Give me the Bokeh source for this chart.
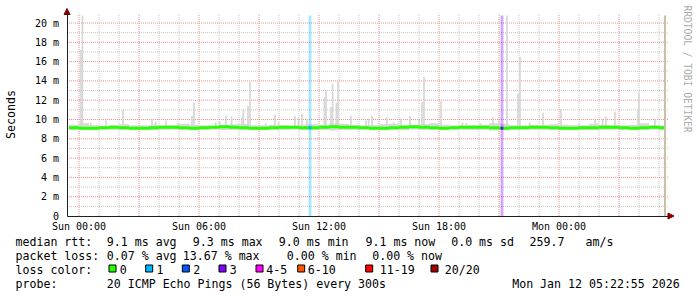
import math
from bokeh.plotting import figure
from bokeh.models import FixedTicker, Label, Arrow, NormalHead
from bokeh.embed import file_html
from bokeh.resources import INLINE

# ---------------- data ----------------
# time in hours relative to Sun 00:00 (2026-01-11); graph spans 30 h
x_start_h, x_end_h = -0.6, 29.4

tick_hours = [0, 6, 12, 18, 24]
tick_labels = ["Sun 00:00", "Sun 06:00", "Sun 12:00", "Sun 18:00", "Mon 00:00"]
y_ticks = [0, 2, 4, 6, 8, 10, 12, 14, 16, 18, 20]
y_tick_labels = ["0", "2 m", "4 m", "6 m", "8 m", "10 m", "12 m", "14 m", "16 m", "18 m", "20 m"]

# 30-minute summaries (ms)
step_start_h = -0.5
step_h = 0.5
data_end_h = 29.3
median_ms = [9.15, 9.1, 9.1, 9.15, 9.2, 9.15, 9.1, 9.1, 9.15, 9.2,
             9.2, 9.15, 9.1, 9.15, 9.2, 9.25, 9.2, 9.15, 9.1, 9.1,
             9.15, 9.2, 9.2, 9.15, 9.15, 9.2, 9.25, 9.2, 9.2, 9.15,
             9.1, 9.1, 9.15, 9.2, 9.25, 9.2, 9.15, 9.1, 9.15, 9.2,
             9.2, 9.2, 9.15, 9.1, 9.15, 9.15, 9.2, 9.2, 9.15, 9.1,
             9.1, 9.15, 9.15, 9.2, 9.2, 9.15, 9.1, 9.15, 9.2, 9.15]
smoke_lo_ms = [8.95, 8.9, 8.95, 9.0, 8.9, 8.95, 8.95, 9.0, 8.9, 8.95,
               9.0, 8.9, 8.95, 8.95, 9.0, 8.9, 8.95, 8.9, 8.95, 9.0,
               8.95, 8.9, 9.0, 8.95, 8.9, 8.95, 8.85, 8.9, 8.95, 9.0,
               8.95, 8.9, 8.95, 8.9, 9.0, 8.95, 8.9, 8.95, 9.0, 8.95,
               8.9, 8.95, 8.85, 8.9, 8.95, 9.0, 8.95, 8.9, 8.95, 9.0,
               8.95, 8.9, 8.9, 8.95, 9.0, 8.95, 8.9, 8.95, 9.0, 8.95]
smoke_hi_ms = [9.45, 9.6, 9.4, 9.35, 9.4, 9.5, 9.4, 9.4, 9.45, 9.4,
               9.4, 9.55, 9.45, 9.4, 9.35, 9.45, 9.5, 9.55, 9.4, 9.4,
               9.45, 9.4, 9.35, 9.45, 9.5, 9.45, 9.6, 9.55, 9.45, 9.4,
               9.4, 9.5, 9.55, 9.45, 9.4, 9.5, 9.6, 9.45, 9.4, 9.4,
               9.4, 9.45, 9.6, 9.55, 9.4, 9.4, 9.45, 9.4, 9.5, 9.45,
               9.4, 9.4, 9.55, 9.45, 9.4, 9.4, 9.45, 9.6, 9.4, 9.4]

# individual 5-minute smoke spikes (hour, max ms)
spike_hours = [0.1, 0.17, 0.58, 1.35, 2.2, 3.65, 3.83, 4.35, 4.93, 5.65, 5.75, 6.83, 7.03,
               7.35, 7.63, 8.15, 8.22, 8.45, 8.55, 9.33, 9.8, 9.98, 10.8, 10.98, 11.15,
               11.4, 12.27, 12.35, 12.6, 12.68, 12.87, 12.95, 13.6, 14.35, 14.48, 14.65,
               15.4, 15.73, 16.1, 16.55, 17.0, 17.15, 17.25, 18.1, 19.18, 19.38, 20.08,
               20.7, 21.0, 21.4, 21.95, 22.05, 22.53, 23.2, 24.1, 24.98, 25.8, 26.18,
               26.35, 26.8, 27.95, 28.0, 28.8]
spike_tops = [17.2, 21.0, 9.7, 9.9, 11.0, 10.0, 9.8, 9.9, 9.6, 10.4, 11.7, 9.7, 9.8,
              10.4, 10.3, 10.2, 11.1, 11.4, 13.9, 9.6, 10.5, 9.7, 10.4, 10.2, 10.6,
              10.1, 12.3, 13.0, 11.3, 13.7, 11.7, 13.95, 10.4, 9.9, 10.1, 10.4,
              10.2, 9.7, 10.1, 10.4, 10.0, 11.8, 14.4, 11.9, 9.7, 9.6, 9.6,
              10.2, 9.9, 21.0, 12.7, 16.5, 9.7, 10.7, 11.1, 9.6, 10.0, 10.0,
              10.3, 10.8, 10.9, 12.8, 10.1]

# packet loss events (hour, lost pings of 20)
loss_hours = [11.55, 21.15]
loss_pings = [1, 3]
unknown_hours = [29.3]

loss_labels = ["0", "1", "2", "3", "4-5", "6-10", "11-19", "20/20"]
loss_colors = ["#26ff00", "#00b8ff", "#0059ff", "#7e00ff", "#ff00ff", "#ff5500", "#ff0000", "#a10000"]

rtt_title = "median rtt:"
rtt_stats = ["9.1 ms avg", "9.3 ms max", "9.0 ms min", "9.1 ms now", "0.0 ms sd", "259.7", "am/s"]
loss_title = "packet loss:"
loss_stats = ["0.07 % avg", "13.67 % max", "0.00 % min", "0.00 % now"]
color_title = "loss color:"
probe_title = "probe:"
probe_text = "20 ICMP Echo Pings (56 Bytes) every 300s"
timestamp = "Mon Jan 12 05:22:55 2026"
watermark = "RRDTOOL / TOBI OETIKER"
y_title = "Seconds"

# ---------------- layout (canvas pixel <-> data) ----------------
W, H = 697, 297
X0, PXH = 78.5, 20.0      # canvas x of Sun 00:00, px per hour
Y0, PXU = 215.5, 9.65     # canvas y of 0 ms, px per ms
MONO = "DejaVu Sans Mono"


def hx(X):
    return (X - X0) / PXH


def vy(Y):
    return (Y0 - Y) / PXU


y_top = vy(15)

p = figure(width=W, height=H, x_range=(hx(0), hx(W)), y_range=(vy(H), vy(0)),
           output_backend="svg", toolbar_location=None,
           min_border=0, min_border_left=0, min_border_right=0,
           min_border_top=0, min_border_bottom=0)
p.title.visible = False
p.background_fill_color = "white"
p.border_fill_color = "white"
p.outline_line_color = None
p.xgrid.visible = False
p.ygrid.visible = False

# axes fixed at the graph origin
p.xaxis.fixed_location = 0
p.yaxis.fixed_location = x_start_h
p.xaxis.bounds = (x_start_h, hx(669))
p.yaxis.bounds = (0, vy(13))
p.xaxis.ticker = FixedTicker(ticks=tick_hours)
p.xaxis.major_label_overrides = dict(zip(tick_hours, tick_labels))
p.yaxis.ticker = FixedTicker(ticks=y_ticks)
p.yaxis.major_label_overrides = dict(zip(y_ticks, y_tick_labels))
for ax in (p.xaxis, p.yaxis):
    ax.axis_line_color = "#1f1f1f"
    ax.major_tick_out = 0
    ax.major_tick_in = 0
    ax.minor_tick_out = 0
    ax.minor_tick_in = 0
    ax.major_label_text_font = MONO
    ax.major_label_text_font_size = "10px"
    ax.major_label_text_color = "black"
p.xaxis.major_label_standoff = 5
p.yaxis.major_label_standoff = 8

# grid lines
major_h = [h for h in range(0, 30, 3)]
minor_h = [h for h in range(0, 30) if h % 3]
minor_v = [v for v in range(1, 21, 2)]
major_v = [v for v in y_ticks if v > 0]
gx1 = hx(668)
gy1 = vy(13)
p.segment(x0=minor_h, x1=minor_h, y0=0, y1=gy1, line_color="#c8c8c8", line_dash="1 1", line_width=1)
p.segment(x0=x_start_h, x1=gx1, y0=minor_v, y1=minor_v, line_color="#c8c8c8", line_dash="1 1", line_width=1)
p.segment(x0=major_h, x1=major_h, y0=0, y1=gy1, line_color="#ee9090", line_dash="1 1", line_width=1)
p.segment(x0=x_start_h, x1=gx1, y0=major_v, y1=major_v, line_color="#ee9090", line_dash="1 1", line_width=1)

# data glyphs
lefts = [step_start_h + i * step_h for i in range(len(median_ms))]
rights = [min(l + step_h, data_end_h) for l in lefts]
p.quad(left=lefts, right=rights, bottom=smoke_lo_ms, top=smoke_hi_ms,
       fill_color="#d9d9d9", line_color=None)
p.vbar(x=spike_hours, width=5 / 60, bottom=9.2, top=[min(t, y_top) for t in spike_tops],
       fill_color="#d6d6d6", line_color=None)
p.vbar(x=loss_hours, width=0.14, bottom=0, top=y_top,
       fill_color=[loss_colors[n] for n in loss_pings], fill_alpha=0.35, line_color=None)
p.quad(left=lefts, right=rights, bottom=[m - 0.16 for m in median_ms],
       top=[m + 0.16 for m in median_ms], fill_color=loss_colors[0], line_color=None)
loss_med = [median_ms[int((h - step_start_h) / step_h)] for h in loss_hours]
p.vbar(x=loss_hours, width=0.14, bottom=[m - 0.16 for m in loss_med],
       top=[m + 0.16 for m in loss_med],
       fill_color=[loss_colors[n] for n in loss_pings], line_color=None)
p.vbar(x=unknown_hours, width=0.1, bottom=0, top=y_top, fill_color="#c6c3a2", line_color=None)

# axis arrows
p.add_layout(Arrow(x_start=x_start_h, y_start=vy(14), x_end=x_start_h, y_end=vy(8),
                   line_color="#1f1f1f",
                   end=NormalHead(size=6, fill_color="#800000", line_color="#800000")))
p.add_layout(Arrow(x_start=hx(667), y_start=0, x_end=hx(673.5), y_end=0,
                   line_color="#1f1f1f",
                   end=NormalHead(size=6, fill_color="#800000", line_color="#800000")))


def txt(X, Y, s, size="11.6px", color="black", align="left", **kw):
    p.add_layout(Label(x=hx(X), y=vy(Y), text=s, text_font=MONO, text_font_size=size,
                       text_color=color, text_baseline="middle", text_align=align, **kw))


# y axis title
txt(10, 114, y_title, align="center", angle=math.pi / 2)

# legend text (x = ink start minus side bearing)
txt(15, 241, rtt_title)
for xx, s in zip([106.3, 192.3, 278.3, 365, 450.7, 529, 585], rtt_stats):
    txt(xx, 241, s)
txt(15, 255, loss_title)
for xx, s in zip([106.3, 182.3, 286.3, 371.7], loss_stats):
    txt(xx, 255, s)
txt(15, 269, color_title)
box_x = [108.5, 145.2, 181.8, 218.5, 255.5, 297.2, 365.2, 430.5]
lab_x = [119.3, 156, 192.7, 229.3, 265.7, 307.3, 379.3, 444.3]
p.quad(left=[hx(b) for b in box_x], right=[hx(b + 7) for b in box_x],
       top=vy(264.5), bottom=vy(271.5), fill_color=loss_colors,
       line_color="black", line_width=1)
for lx, s in zip(lab_x, loss_labels):
    txt(lx, 269, s)
txt(15, 283, probe_title)
txt(106.3, 283, probe_text)
txt(511.7, 283, timestamp)

# watermark
txt(687, 5, watermark, size="9.6px", color="#ababab", angle=-math.pi / 2)

open("out.html", "w").write(file_html(p, INLINE))
